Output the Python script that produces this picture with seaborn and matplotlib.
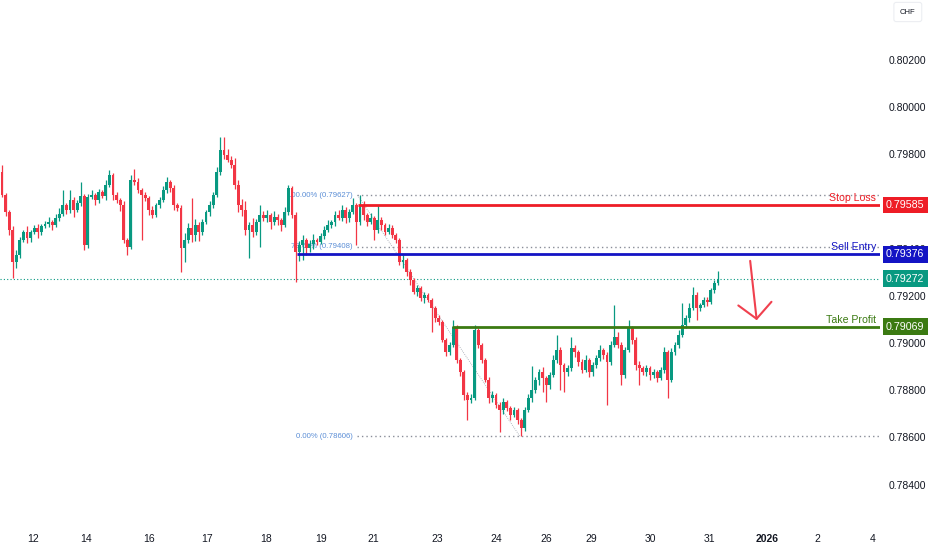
import numpy as np
import pandas as pd
import seaborn as sns
import matplotlib
matplotlib.use("Agg")
import matplotlib.pyplot as plt
from matplotlib.patches import FancyArrowPatch
from matplotlib.transforms import blended_transform_factory

# ---------------- data (USD/CHF) ----------------
first_open = 0.79725
closes = [
    0.79628, 0.79555, 0.79479, 0.79343, 0.79373, 0.79437, 0.79471, 0.79445, 0.79471, 0.79488,
    0.79471, 0.79496, 0.79505, 0.79513, 0.79500, 0.79530, 0.79547, 0.79585, 0.79564, 0.79606,
    0.79564, 0.79594, 0.79623, 0.79416, 0.79619, 0.79628, 0.79606, 0.79640, 0.79623, 0.79670,
    0.79712, 0.79628, 0.79606, 0.79585, 0.79437, 0.79407, 0.79691, 0.79683, 0.79649, 0.79628,
    0.79615, 0.79564, 0.79543, 0.79585, 0.79606, 0.79649, 0.79683, 0.79657, 0.79585, 0.79572,
    0.79403, 0.79437, 0.79488, 0.79458, 0.79500, 0.79471, 0.79513, 0.79555, 0.79585, 0.79628,
    0.79725, 0.79818, 0.79797, 0.79776, 0.79755, 0.79670, 0.79585, 0.79564, 0.79479, 0.79500,
    0.79471, 0.79513, 0.79543, 0.79530, 0.79543, 0.79513, 0.79534, 0.79522, 0.79500, 0.79555,
    0.79657, 0.79543, 0.79386, 0.79416, 0.79437, 0.79403, 0.79420, 0.79437, 0.79428, 0.79454,
    0.79479, 0.79500, 0.79513, 0.79543, 0.79530, 0.79564, 0.79530, 0.79555, 0.79585, 0.79513,
    0.79585, 0.79543, 0.79513, 0.79530, 0.79479, 0.79522, 0.79500, 0.79471, 0.79488, 0.79458,
    0.79437, 0.79343, 0.79352, 0.79301, 0.79267, 0.79216, 0.79233, 0.79191, 0.79204, 0.79182,
    0.79148, 0.79106, 0.79089, 0.79013, 0.78962, 0.78992, 0.79068, 0.78928, 0.78877, 0.78780,
    0.78758, 0.78767, 0.79055, 0.78992, 0.78928, 0.78843, 0.78767, 0.78780, 0.78737, 0.78716,
    0.78750, 0.78724, 0.78695, 0.78716, 0.78674, 0.78640, 0.78716, 0.78767, 0.78801, 0.78843,
    0.78877, 0.78852, 0.78822, 0.78864, 0.78928, 0.78970, 0.78907, 0.78877, 0.78894, 0.78979,
    0.78962, 0.78919, 0.78886, 0.78928, 0.78877, 0.78907, 0.78936, 0.78970, 0.78949, 0.78919,
    0.78992, 0.79025, 0.78992, 0.78864, 0.78970, 0.79064, 0.79013, 0.78907, 0.78894, 0.78877,
    0.78894, 0.78864, 0.78877, 0.78852, 0.78886, 0.78962, 0.78843, 0.78962, 0.78992, 0.79034,
    0.79076, 0.79106, 0.79148, 0.79204, 0.79148, 0.79161, 0.79182, 0.79174, 0.79225, 0.79254,
    0.79272,
]
# wick lengths beyond the body, in points (0.00001)
upper_wick_pts = [
    30, 8, 10, 15, 20, 12, 10, 25, 8, 12,
    15, 8, 12, 20, 10, 15, 25, 64, 10, 42,
    15, 12, 59, 10, 12, 20, 10, 15, 10, 20,
    21, 10, 12, 10, 15, 10, 21, 47, 15, 10,
    12, 10, 15, 10, 12, 15, 21, 10, 12, 10,
    15, 30, 20, 127, 25, 15, 12, 10, 15, 12,
    20, 55, 55, 25, 15, 30, 20, 25, 40, 15,
    30, 12, 42, 15, 20, 10, 25, 15, 10, 20,
    13, 10, 12, 15, 20, 10, 15, 25, 10, 12,
    15, 20, 10, 15, 21, 20, 12, 15, 30, 10,
    42, 15, 10, 20, 10, 64, 12, 10, 15, 12,
    10, 8, 20, 10, 12, 8, 15, 10, 12, 10,
    8, 10, 12, 8, 10, 12, 30, 10, 8, 10,
    12, 15, 21, 10, 8, 10, 12, 15, 10, 12,
    15, 10, 8, 12, 10, 8, 12, 15, 100, 12,
    15, 20, 10, 15, 20, 64, 12, 10, 15, 47,
    12, 10, 15, 20, 10, 12, 15, 20, 10, 12,
    15, 136, 20, 12, 15, 34, 10, 12, 15, 10,
    12, 10, 15, 10, 12, 20, 10, 15, 12, 20,
    93, 15, 20, 34, 12, 10, 15, 12, 10, 15,
    34,
]
lower_wick_pts = [
    10, 15, 20, 68, 25, 12, 10, 20, 15, 10,
    25, 12, 10, 15, 20, 10, 12, 10, 15, 12,
    30, 10, 12, 20, 15, 10, 20, 12, 10, 15,
    10, 20, 12, 25, 15, 34, 10, 12, 15, 191,
    12, 20, 15, 10, 12, 10, 12, 15, 20, 12,
    102, 59, 15, 30, 25, 40, 12, 10, 15, 12,
    10, 12, 15, 10, 12, 15, 30, 25, 20, 119,
    20, 15, 106, 12, 15, 30, 12, 20, 25, 10,
    12, 15, 127, 40, 64, 30, 15, 20, 12, 10,
    15, 10, 12, 15, 10, 12, 20, 15, 10, 97,
    12, 20, 15, 10, 42, 12, 20, 15, 10, 12,
    15, 12, 25, 15, 20, 10, 15, 12, 20, 10,
    102, 15, 12, 10, 15, 12, 10, 12, 15, 20,
    85, 12, 10, 15, 12, 10, 20, 15, 12, 93,
    15, 12, 20, 10, 15, 34, 12, 10, 15, 12,
    20, 59, 72, 15, 10, 12, 106, 85, 15, 12,
    20, 15, 12, 10, 20, 15, 12, 10, 15, 182,
    12, 10, 15, 42, 12, 10, 15, 20, 72, 12,
    15, 20, 12, 15, 10, 12, 76, 10, 12, 15,
    10, 12, 15, 10, 51, 12, 10, 15, 10, 12,
    8,
]

day_labels = ["12", "14", "16", "17", "18", "19", "21", "23", "24", "26",
              "29", "30", "31", "2026", "2", "4"]
day_bars = [8.7, 23.5, 41.1, 57.3, 73.7, 89.1, 103.6, 121.5, 138.0, 152.0,
            164.5, 181.0, 197.5, 213.7, 227.7, 243.3]

# 0.79600 is fully hidden by the stop-loss tag in the reference
price_ticks = [0.784, 0.786, 0.788, 0.790, 0.792, 0.794, 0.798, 0.800, 0.802]

level_names = ["Stop Loss", "Sell Entry", "Take Profit"]
level_prices = [0.79585, 0.79376, 0.79069]
level_start_bar = [99.4, 82.4, 125.7]

fib_labels = ["100.00% (0.79627)", "78.60% (0.79408)", "0.00% (0.78606)"]
fib_prices = [0.79627, 0.79408, 0.78606]
fib_start_bar = 99.2
fib_anchor_bars = [99.3, 144.6]

last_price = 0.79272

# ---------------- build frame ----------------
opens = [first_open] + closes[:-1]
df = pd.DataFrame({"open": opens, "close": closes,
                   "up": upper_wick_pts, "dn": lower_wick_pts})
df["bar"] = np.arange(len(df))
df["top"] = df[["open", "close"]].max(axis=1)
df["bot"] = df[["open", "close"]].min(axis=1)
df["high"] = df["top"] + df["up"] * 1e-5
df["low"] = df["bot"] - df["dn"] * 1e-5
df["rising"] = df["close"] >= df["open"]

GREEN = "#089981"
RED = "#F23645"
df["color"] = np.where(df["rising"], GREEN, RED)

# ---------------- figure ----------------
sns.set_theme(style="white")
plt.rcParams["font.family"] = ["Liberation Sans", "DejaVu Sans"]

W, H = 932, 550
fig = plt.figure(figsize=(W / 100, H / 100), dpi=100)
ax = fig.add_axes([0, 30 / H, 880 / W, 520 / H])
for s in ax.spines.values():
    s.set_visible(False)

x0, x1 = -0.56, 245.25
y0, y1 = 0.78250, 0.80454
ax.set_xlim(x0, x1)
ax.set_ylim(y0, y1)

# current price dotted line
sns.lineplot(x=[x0, x1], y=[last_price, last_price], ax=ax, color=GREEN,
             lw=0.8, linestyle=(0, (1, 2)), zorder=1)

# fib dotted lines and labels
for lab, p in zip(fib_labels, fib_prices):
    ax.plot([fib_start_bar, x1], [p, p], color="#8a8e99", lw=1.0,
            linestyle=(0, (1, 2.2)), zorder=1)
    ax.text(fib_start_bar - 1.3, p, lab, ha="right", va="center",
            fontsize=5.6, color="#5b8ed6", zorder=1)
ax.plot(fib_anchor_bars, [fib_prices[0], fib_prices[2]], color="#9aa0ab",
        lw=0.6, linestyle=(0, (1, 1.5)), zorder=1)

# candles
ax.vlines(df["bar"], df["low"], df["high"], colors=df["color"], lw=0.9, zorder=3)
heights = np.maximum(df["top"] - df["bot"], 0.000012)
ax.bar(df["bar"], heights, bottom=df["bot"], width=0.8, color=df["color"],
       linewidth=0, zorder=4)

# trade levels
level_colors = ["#ee1d26", "#1414c4", "#3b7a12"]
for name, p, sb, c in zip(level_names, level_prices, level_start_bar, level_colors):
    ax.plot([sb, x1], [p, p], color=c, lw=2.0, zorder=5, solid_capstyle="butt")
    ax.text(x1 - 1.1, p + 0.00009, name, ha="right", va="bottom",
            fontsize=7.6, color=c, zorder=6)

# arrow
arr = FancyArrowPatch((208.9, 0.79360), (210.9, 0.79085),
                      arrowstyle="->,head_length=0.55,head_width=0.6",
                      mutation_scale=20, color="#f0404e", lw=1.5, zorder=6)
ax.add_patch(arr)

# axes ticks
ax.set_xticks(day_bars)
ax.set_xticklabels(day_labels)
for t in ax.get_xticklabels():
    if t.get_text() == "2026":
        t.set_fontweight("bold")
ax.tick_params(axis="x", length=0, pad=10, labelsize=7.5, labelcolor="#131722")
ax.yaxis.tick_right()
ax.set_yticks(price_ticks)
ax.set_yticklabels([f"{v:.5f}" for v in price_ticks])
ax.tick_params(axis="y", length=0, pad=6.5, labelsize=7.5, labelcolor="#131722")
ax.grid(False)

# price label boxes on the axis
trans = blended_transform_factory(ax.transAxes, ax.transData)
box_prices = level_prices + [last_price]
box_colors = level_colors + [GREEN]
for p, c in zip(box_prices, box_colors):
    ax.text(886 / 880, p, f"{p:.5f}", transform=trans, ha="left", va="center",
            fontsize=7.7, color="white", clip_on=False, zorder=10,
            bbox=dict(boxstyle="square,pad=0.32", fc=c, ec="none"))

# currency tag
fig.text(900 / W, 1 - 12 / H, "CHF", fontsize=5.5, color="#131722",
         ha="left", va="center",
         bbox=dict(boxstyle="round,pad=0.8,rounding_size=0.3", fc="white",
                   ec="#eceef2", lw=0.8))

fig.savefig("out.png", dpi=100)
